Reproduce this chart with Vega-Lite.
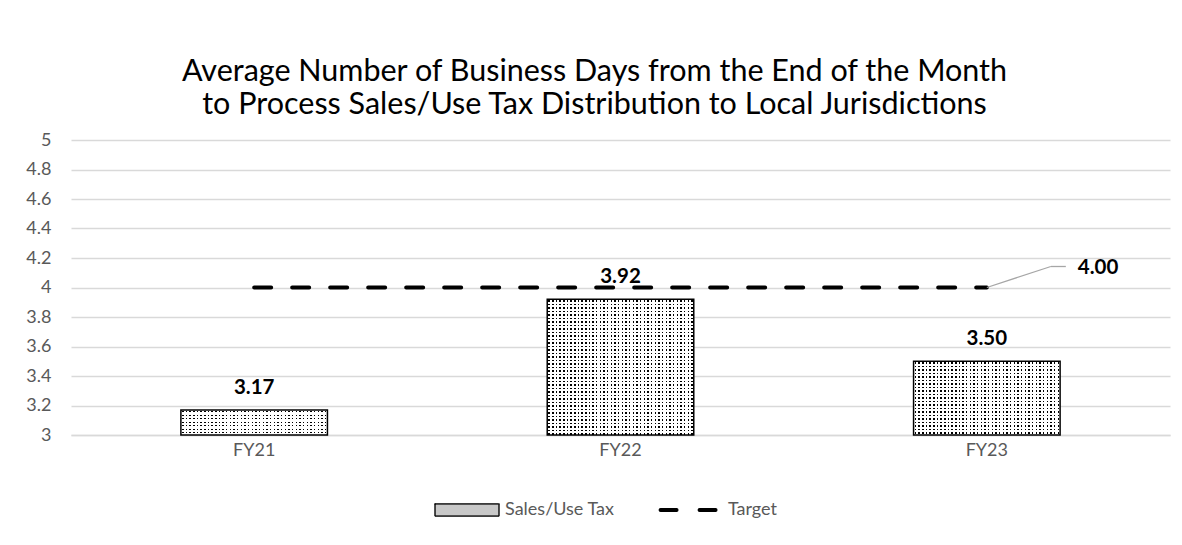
{
  "$schema": "https://vega.github.io/schema/vega-lite/v6.json",
  "width": 1099,
  "height": 295,
  "autosize": {"type": "none"},
  "padding": {"left": 71, "top": 140, "right": 12, "bottom": 110},
  "background": "white",
  "config": {
    "view": {"stroke": null},
    "font": "Lato"
  },
  "title": {
    "text": ["Average Number of Business Days from the End of the Month", "to Process Sales/Use Tax Distribution to Local Jurisdictions"],
    "font": "Lato",
    "fontSize": 30.5,
    "fontWeight": "normal",
    "color": "#000000",
    "anchor": "middle",
    "frame": "group",
    "dx": -26,
    "offset": 11,
    "lineHeight": 33
  },
  "data": {
    "values": [
      {"fy": "FY21", "value": 3.17, "target": 4},
      {"fy": "FY22", "value": 3.92, "target": 4},
      {"fy": "FY23", "value": 3.50, "target": 4}
    ]
  },
  "encoding": {
    "x": {
      "field": "fy",
      "type": "nominal",
      "scale": {"paddingInner": 0.6, "paddingOuter": 0.3},
      "axis": {
        "title": null,
        "labelAngle": 0,
        "labelFont": "Lato",
        "labelFontSize": 18,
        "labelColor": "#595959",
        "labelPadding": 6,
        "ticks": false,
        "domainColor": "#d9d9d9",
        "domainWidth": 1.5
      }
    }
  },
  "layer": [
    {
      "mark": {
        "type": "bar",
        "strokeWidth": 0,
        "fill": {
          "gradient": "linear", "x1": 0, "y1": 0, "x2": 1, "y2": 0,
          "stops": [
            {"offset": 0.008, "color": "#fff"}, {"offset": 0.008, "color": "#000"}, {"offset": 0.018, "color": "#000"}, {"offset": 0.018, "color": "#fff"},
            {"offset": 0.033, "color": "#fff"}, {"offset": 0.033, "color": "#000"}, {"offset": 0.043, "color": "#000"}, {"offset": 0.043, "color": "#fff"},
            {"offset": 0.058, "color": "#fff"}, {"offset": 0.058, "color": "#000"}, {"offset": 0.068, "color": "#000"}, {"offset": 0.068, "color": "#fff"},
            {"offset": 0.083, "color": "#fff"}, {"offset": 0.083, "color": "#000"}, {"offset": 0.093, "color": "#000"}, {"offset": 0.093, "color": "#fff"},
            {"offset": 0.108, "color": "#fff"}, {"offset": 0.108, "color": "#000"}, {"offset": 0.118, "color": "#000"}, {"offset": 0.118, "color": "#fff"},
            {"offset": 0.133, "color": "#fff"}, {"offset": 0.133, "color": "#000"}, {"offset": 0.143, "color": "#000"}, {"offset": 0.143, "color": "#fff"},
            {"offset": 0.158, "color": "#fff"}, {"offset": 0.158, "color": "#000"}, {"offset": 0.168, "color": "#000"}, {"offset": 0.168, "color": "#fff"},
            {"offset": 0.183, "color": "#fff"}, {"offset": 0.183, "color": "#000"}, {"offset": 0.193, "color": "#000"}, {"offset": 0.193, "color": "#fff"},
            {"offset": 0.208, "color": "#fff"}, {"offset": 0.208, "color": "#000"}, {"offset": 0.218, "color": "#000"}, {"offset": 0.218, "color": "#fff"},
            {"offset": 0.233, "color": "#fff"}, {"offset": 0.233, "color": "#000"}, {"offset": 0.243, "color": "#000"}, {"offset": 0.243, "color": "#fff"},
            {"offset": 0.258, "color": "#fff"}, {"offset": 0.258, "color": "#000"}, {"offset": 0.268, "color": "#000"}, {"offset": 0.268, "color": "#fff"},
            {"offset": 0.283, "color": "#fff"}, {"offset": 0.283, "color": "#000"}, {"offset": 0.293, "color": "#000"}, {"offset": 0.293, "color": "#fff"},
            {"offset": 0.308, "color": "#fff"}, {"offset": 0.308, "color": "#000"}, {"offset": 0.318, "color": "#000"}, {"offset": 0.318, "color": "#fff"},
            {"offset": 0.333, "color": "#fff"}, {"offset": 0.333, "color": "#000"}, {"offset": 0.343, "color": "#000"}, {"offset": 0.343, "color": "#fff"},
            {"offset": 0.358, "color": "#fff"}, {"offset": 0.358, "color": "#000"}, {"offset": 0.368, "color": "#000"}, {"offset": 0.368, "color": "#fff"},
            {"offset": 0.383, "color": "#fff"}, {"offset": 0.383, "color": "#000"}, {"offset": 0.393, "color": "#000"}, {"offset": 0.393, "color": "#fff"},
            {"offset": 0.408, "color": "#fff"}, {"offset": 0.408, "color": "#000"}, {"offset": 0.418, "color": "#000"}, {"offset": 0.418, "color": "#fff"},
            {"offset": 0.433, "color": "#fff"}, {"offset": 0.433, "color": "#000"}, {"offset": 0.443, "color": "#000"}, {"offset": 0.443, "color": "#fff"},
            {"offset": 0.458, "color": "#fff"}, {"offset": 0.458, "color": "#000"}, {"offset": 0.468, "color": "#000"}, {"offset": 0.468, "color": "#fff"},
            {"offset": 0.483, "color": "#fff"}, {"offset": 0.483, "color": "#000"}, {"offset": 0.493, "color": "#000"}, {"offset": 0.493, "color": "#fff"},
            {"offset": 0.508, "color": "#fff"}, {"offset": 0.508, "color": "#000"}, {"offset": 0.518, "color": "#000"}, {"offset": 0.518, "color": "#fff"},
            {"offset": 0.533, "color": "#fff"}, {"offset": 0.533, "color": "#000"}, {"offset": 0.543, "color": "#000"}, {"offset": 0.543, "color": "#fff"},
            {"offset": 0.558, "color": "#fff"}, {"offset": 0.558, "color": "#000"}, {"offset": 0.568, "color": "#000"}, {"offset": 0.568, "color": "#fff"},
            {"offset": 0.583, "color": "#fff"}, {"offset": 0.583, "color": "#000"}, {"offset": 0.593, "color": "#000"}, {"offset": 0.593, "color": "#fff"},
            {"offset": 0.608, "color": "#fff"}, {"offset": 0.608, "color": "#000"}, {"offset": 0.618, "color": "#000"}, {"offset": 0.618, "color": "#fff"},
            {"offset": 0.633, "color": "#fff"}, {"offset": 0.633, "color": "#000"}, {"offset": 0.643, "color": "#000"}, {"offset": 0.643, "color": "#fff"},
            {"offset": 0.658, "color": "#fff"}, {"offset": 0.658, "color": "#000"}, {"offset": 0.668, "color": "#000"}, {"offset": 0.668, "color": "#fff"},
            {"offset": 0.683, "color": "#fff"}, {"offset": 0.683, "color": "#000"}, {"offset": 0.693, "color": "#000"}, {"offset": 0.693, "color": "#fff"},
            {"offset": 0.708, "color": "#fff"}, {"offset": 0.708, "color": "#000"}, {"offset": 0.718, "color": "#000"}, {"offset": 0.718, "color": "#fff"},
            {"offset": 0.733, "color": "#fff"}, {"offset": 0.733, "color": "#000"}, {"offset": 0.743, "color": "#000"}, {"offset": 0.743, "color": "#fff"},
            {"offset": 0.758, "color": "#fff"}, {"offset": 0.758, "color": "#000"}, {"offset": 0.768, "color": "#000"}, {"offset": 0.768, "color": "#fff"},
            {"offset": 0.783, "color": "#fff"}, {"offset": 0.783, "color": "#000"}, {"offset": 0.793, "color": "#000"}, {"offset": 0.793, "color": "#fff"},
            {"offset": 0.808, "color": "#fff"}, {"offset": 0.808, "color": "#000"}, {"offset": 0.818, "color": "#000"}, {"offset": 0.818, "color": "#fff"},
            {"offset": 0.833, "color": "#fff"}, {"offset": 0.833, "color": "#000"}, {"offset": 0.843, "color": "#000"}, {"offset": 0.843, "color": "#fff"},
            {"offset": 0.858, "color": "#fff"}, {"offset": 0.858, "color": "#000"}, {"offset": 0.868, "color": "#000"}, {"offset": 0.868, "color": "#fff"},
            {"offset": 0.883, "color": "#fff"}, {"offset": 0.883, "color": "#000"}, {"offset": 0.893, "color": "#000"}, {"offset": 0.893, "color": "#fff"},
            {"offset": 0.908, "color": "#fff"}, {"offset": 0.908, "color": "#000"}, {"offset": 0.918, "color": "#000"}, {"offset": 0.918, "color": "#fff"},
            {"offset": 0.933, "color": "#fff"}, {"offset": 0.933, "color": "#000"}, {"offset": 0.943, "color": "#000"}, {"offset": 0.943, "color": "#fff"},
            {"offset": 0.958, "color": "#fff"}, {"offset": 0.958, "color": "#000"}, {"offset": 0.968, "color": "#000"}, {"offset": 0.968, "color": "#fff"},
            {"offset": 0.983, "color": "#fff"}, {"offset": 0.983, "color": "#000"}, {"offset": 0.993, "color": "#000"}, {"offset": 0.993, "color": "#fff"}
          ]
        }
      },
      "encoding": {
        "y": {
          "field": "value",
          "type": "quantitative",
          "scale": {"domain": [3, 5], "nice": false, "zero": false},
          "axis": {
            "title": null,
            "values": [3, 3.2, 3.4, 3.6, 3.8, 4, 4.2, 4.4, 4.6, 4.8, 5],
            "tickCount": 20,
            "labelOverlap": false,
            "format": "~g",
            "labelFont": "Lato",
            "labelFontSize": 18,
            "labelColor": "#595959",
            "labelPadding": 20,
            "ticks": false,
            "domain": false,
            "grid": true,
            "gridColor": "#d9d9d9",
            "gridWidth": 1.5
          }
        },
        "y2": {"datum": 3}
      }
    },
    {
      "mark": {
        "type": "bar",
        "clip": true,
        "strokeWidth": 0,
        "y2Offset": 140,
        "fill": {
          "gradient": "linear", "x1": 0, "y1": 0, "x2": 0, "y2": 1,
          "stops": [
            {"offset": 0.008, "color": "#fff"}, {"offset": 0.008, "color": "rgba(255,255,255,0)"}, {"offset": 0.018, "color": "rgba(255,255,255,0)"}, {"offset": 0.018, "color": "#fff"},
            {"offset": 0.033, "color": "#fff"}, {"offset": 0.033, "color": "rgba(255,255,255,0)"}, {"offset": 0.043, "color": "rgba(255,255,255,0)"}, {"offset": 0.043, "color": "#fff"},
            {"offset": 0.058, "color": "#fff"}, {"offset": 0.058, "color": "rgba(255,255,255,0)"}, {"offset": 0.068, "color": "rgba(255,255,255,0)"}, {"offset": 0.068, "color": "#fff"},
            {"offset": 0.083, "color": "#fff"}, {"offset": 0.083, "color": "rgba(255,255,255,0)"}, {"offset": 0.093, "color": "rgba(255,255,255,0)"}, {"offset": 0.093, "color": "#fff"},
            {"offset": 0.108, "color": "#fff"}, {"offset": 0.108, "color": "rgba(255,255,255,0)"}, {"offset": 0.118, "color": "rgba(255,255,255,0)"}, {"offset": 0.118, "color": "#fff"},
            {"offset": 0.133, "color": "#fff"}, {"offset": 0.133, "color": "rgba(255,255,255,0)"}, {"offset": 0.143, "color": "rgba(255,255,255,0)"}, {"offset": 0.143, "color": "#fff"},
            {"offset": 0.158, "color": "#fff"}, {"offset": 0.158, "color": "rgba(255,255,255,0)"}, {"offset": 0.168, "color": "rgba(255,255,255,0)"}, {"offset": 0.168, "color": "#fff"},
            {"offset": 0.183, "color": "#fff"}, {"offset": 0.183, "color": "rgba(255,255,255,0)"}, {"offset": 0.193, "color": "rgba(255,255,255,0)"}, {"offset": 0.193, "color": "#fff"},
            {"offset": 0.208, "color": "#fff"}, {"offset": 0.208, "color": "rgba(255,255,255,0)"}, {"offset": 0.218, "color": "rgba(255,255,255,0)"}, {"offset": 0.218, "color": "#fff"},
            {"offset": 0.233, "color": "#fff"}, {"offset": 0.233, "color": "rgba(255,255,255,0)"}, {"offset": 0.243, "color": "rgba(255,255,255,0)"}, {"offset": 0.243, "color": "#fff"},
            {"offset": 0.258, "color": "#fff"}, {"offset": 0.258, "color": "rgba(255,255,255,0)"}, {"offset": 0.268, "color": "rgba(255,255,255,0)"}, {"offset": 0.268, "color": "#fff"},
            {"offset": 0.283, "color": "#fff"}, {"offset": 0.283, "color": "rgba(255,255,255,0)"}, {"offset": 0.293, "color": "rgba(255,255,255,0)"}, {"offset": 0.293, "color": "#fff"},
            {"offset": 0.308, "color": "#fff"}, {"offset": 0.308, "color": "rgba(255,255,255,0)"}, {"offset": 0.318, "color": "rgba(255,255,255,0)"}, {"offset": 0.318, "color": "#fff"},
            {"offset": 0.333, "color": "#fff"}, {"offset": 0.333, "color": "rgba(255,255,255,0)"}, {"offset": 0.343, "color": "rgba(255,255,255,0)"}, {"offset": 0.343, "color": "#fff"},
            {"offset": 0.358, "color": "#fff"}, {"offset": 0.358, "color": "rgba(255,255,255,0)"}, {"offset": 0.368, "color": "rgba(255,255,255,0)"}, {"offset": 0.368, "color": "#fff"},
            {"offset": 0.383, "color": "#fff"}, {"offset": 0.383, "color": "rgba(255,255,255,0)"}, {"offset": 0.393, "color": "rgba(255,255,255,0)"}, {"offset": 0.393, "color": "#fff"},
            {"offset": 0.408, "color": "#fff"}, {"offset": 0.408, "color": "rgba(255,255,255,0)"}, {"offset": 0.418, "color": "rgba(255,255,255,0)"}, {"offset": 0.418, "color": "#fff"},
            {"offset": 0.433, "color": "#fff"}, {"offset": 0.433, "color": "rgba(255,255,255,0)"}, {"offset": 0.443, "color": "rgba(255,255,255,0)"}, {"offset": 0.443, "color": "#fff"},
            {"offset": 0.458, "color": "#fff"}, {"offset": 0.458, "color": "rgba(255,255,255,0)"}, {"offset": 0.468, "color": "rgba(255,255,255,0)"}, {"offset": 0.468, "color": "#fff"},
            {"offset": 0.483, "color": "#fff"}, {"offset": 0.483, "color": "rgba(255,255,255,0)"}, {"offset": 0.493, "color": "rgba(255,255,255,0)"}, {"offset": 0.493, "color": "#fff"},
            {"offset": 0.508, "color": "#fff"}, {"offset": 0.508, "color": "rgba(255,255,255,0)"}, {"offset": 0.518, "color": "rgba(255,255,255,0)"}, {"offset": 0.518, "color": "#fff"},
            {"offset": 0.533, "color": "#fff"}, {"offset": 0.533, "color": "rgba(255,255,255,0)"}, {"offset": 0.543, "color": "rgba(255,255,255,0)"}, {"offset": 0.543, "color": "#fff"},
            {"offset": 0.558, "color": "#fff"}, {"offset": 0.558, "color": "rgba(255,255,255,0)"}, {"offset": 0.568, "color": "rgba(255,255,255,0)"}, {"offset": 0.568, "color": "#fff"},
            {"offset": 0.583, "color": "#fff"}, {"offset": 0.583, "color": "rgba(255,255,255,0)"}, {"offset": 0.593, "color": "rgba(255,255,255,0)"}, {"offset": 0.593, "color": "#fff"},
            {"offset": 0.608, "color": "#fff"}, {"offset": 0.608, "color": "rgba(255,255,255,0)"}, {"offset": 0.618, "color": "rgba(255,255,255,0)"}, {"offset": 0.618, "color": "#fff"},
            {"offset": 0.633, "color": "#fff"}, {"offset": 0.633, "color": "rgba(255,255,255,0)"}, {"offset": 0.643, "color": "rgba(255,255,255,0)"}, {"offset": 0.643, "color": "#fff"},
            {"offset": 0.658, "color": "#fff"}, {"offset": 0.658, "color": "rgba(255,255,255,0)"}, {"offset": 0.668, "color": "rgba(255,255,255,0)"}, {"offset": 0.668, "color": "#fff"},
            {"offset": 0.683, "color": "#fff"}, {"offset": 0.683, "color": "rgba(255,255,255,0)"}, {"offset": 0.693, "color": "rgba(255,255,255,0)"}, {"offset": 0.693, "color": "#fff"},
            {"offset": 0.708, "color": "#fff"}, {"offset": 0.708, "color": "rgba(255,255,255,0)"}, {"offset": 0.718, "color": "rgba(255,255,255,0)"}, {"offset": 0.718, "color": "#fff"},
            {"offset": 0.733, "color": "#fff"}, {"offset": 0.733, "color": "rgba(255,255,255,0)"}, {"offset": 0.743, "color": "rgba(255,255,255,0)"}, {"offset": 0.743, "color": "#fff"},
            {"offset": 0.758, "color": "#fff"}, {"offset": 0.758, "color": "rgba(255,255,255,0)"}, {"offset": 0.768, "color": "rgba(255,255,255,0)"}, {"offset": 0.768, "color": "#fff"},
            {"offset": 0.783, "color": "#fff"}, {"offset": 0.783, "color": "rgba(255,255,255,0)"}, {"offset": 0.793, "color": "rgba(255,255,255,0)"}, {"offset": 0.793, "color": "#fff"},
            {"offset": 0.808, "color": "#fff"}, {"offset": 0.808, "color": "rgba(255,255,255,0)"}, {"offset": 0.818, "color": "rgba(255,255,255,0)"}, {"offset": 0.818, "color": "#fff"},
            {"offset": 0.833, "color": "#fff"}, {"offset": 0.833, "color": "rgba(255,255,255,0)"}, {"offset": 0.843, "color": "rgba(255,255,255,0)"}, {"offset": 0.843, "color": "#fff"},
            {"offset": 0.858, "color": "#fff"}, {"offset": 0.858, "color": "rgba(255,255,255,0)"}, {"offset": 0.868, "color": "rgba(255,255,255,0)"}, {"offset": 0.868, "color": "#fff"},
            {"offset": 0.883, "color": "#fff"}, {"offset": 0.883, "color": "rgba(255,255,255,0)"}, {"offset": 0.893, "color": "rgba(255,255,255,0)"}, {"offset": 0.893, "color": "#fff"},
            {"offset": 0.908, "color": "#fff"}, {"offset": 0.908, "color": "rgba(255,255,255,0)"}, {"offset": 0.918, "color": "rgba(255,255,255,0)"}, {"offset": 0.918, "color": "#fff"},
            {"offset": 0.933, "color": "#fff"}, {"offset": 0.933, "color": "rgba(255,255,255,0)"}, {"offset": 0.943, "color": "rgba(255,255,255,0)"}, {"offset": 0.943, "color": "#fff"},
            {"offset": 0.958, "color": "#fff"}, {"offset": 0.958, "color": "rgba(255,255,255,0)"}, {"offset": 0.968, "color": "rgba(255,255,255,0)"}, {"offset": 0.968, "color": "#fff"},
            {"offset": 0.983, "color": "#fff"}, {"offset": 0.983, "color": "rgba(255,255,255,0)"}, {"offset": 0.993, "color": "rgba(255,255,255,0)"}, {"offset": 0.993, "color": "#fff"}
          ]
        }
      },
      "encoding": {
        "y": {"field": "value", "type": "quantitative"},
        "y2": {"field": "value"}
      }
    },
    {
      "mark": {"type": "bar", "fill": "transparent", "stroke": "#000000", "strokeWidth": 1.5},
      "encoding": {
        "y": {"field": "value", "type": "quantitative"},
        "y2": {"datum": 3}
      }
    },
    {
      "mark": {"type": "line", "strokeWidth": 4, "strokeDash": [17, 21], "strokeCap": "round"},
      "encoding": {
        "y": {"field": "target", "type": "quantitative"},
        "color": {
          "datum": "Target",
          "scale": {"domain": ["Sales/Use Tax", "Target"], "range": ["#000000", "#000000"]},
          "legend": {
            "title": null,
            "orient": "none",
            "legendX": 387,
            "legendY": 361,
            "direction": "horizontal",
            "symbolSize": 4096,
            "labelFont": "Lato",
            "labelFontSize": 18,
            "labelColor": "#595959",
            "labelOffset": 29,
            "columnPadding": 37,
            "encode": {
              "symbols": {
                "update": {
                  "shape": {"signal": "datum.value === 'Target' ? 'M-0.92,0H0.92' : 'M-1,-0.19H1V0.19H-1Z'"},
                  "fill": {"signal": "datum.value === 'Target' ? 'transparent' : '#c8c8c8'"},
                  "stroke": {"value": "#000000"},
                  "strokeWidth": {"signal": "datum.value === 'Target' ? 4 : 1"},
                  "strokeDash": {"signal": "datum.value === 'Target' ? [16, 23] : [1, 0]"},
                  "strokeCap": {"value": "round"},
                  "opacity": {"value": 1}
                }
              }
            }
          }
        }
      }
    },
    {
      "mark": {"type": "text", "font": "Lato", "fontSize": 20.5, "fontWeight": "bold", "color": "#000000", "baseline": "alphabetic", "dy": -16},
      "encoding": {
        "y": {"field": "value", "type": "quantitative"},
        "text": {"field": "value", "type": "quantitative", "format": ".2f"}
      }
    },
    {
      "transform": [{"filter": "datum.fy === 'FY23'"}],
      "layer": [
        {
          "mark": {"type": "rule", "color": "#a6a6a6", "strokeWidth": 1.3, "x2Offset": 64, "y2Offset": -21},
          "encoding": {
            "x": {"field": "fy", "type": "nominal", "bandPosition": 0.5},
            "x2": {"field": "fy", "bandPosition": 0.5},
            "y": {"field": "target", "type": "quantitative"},
            "y2": {"field": "target"}
          }
        },
        {
          "mark": {"type": "rule", "color": "#a6a6a6", "strokeWidth": 1.3, "xOffset": 64, "x2Offset": 79, "yOffset": -21, "y2Offset": -21},
          "encoding": {
            "x": {"field": "fy", "type": "nominal", "bandPosition": 0.5},
            "x2": {"field": "fy", "bandPosition": 0.5},
            "y": {"field": "target", "type": "quantitative"},
            "y2": {"field": "target"}
          }
        },
        {
          "mark": {"type": "text", "font": "Lato", "fontSize": 20.5, "fontWeight": "bold", "color": "#000000", "align": "left", "baseline": "middle", "dx": 91, "dy": -20},
          "encoding": {
            "y": {"field": "target", "type": "quantitative"},
            "text": {"field": "target", "type": "quantitative", "format": ".2f"}
          }
        }
      ]
    }
  ]
}
